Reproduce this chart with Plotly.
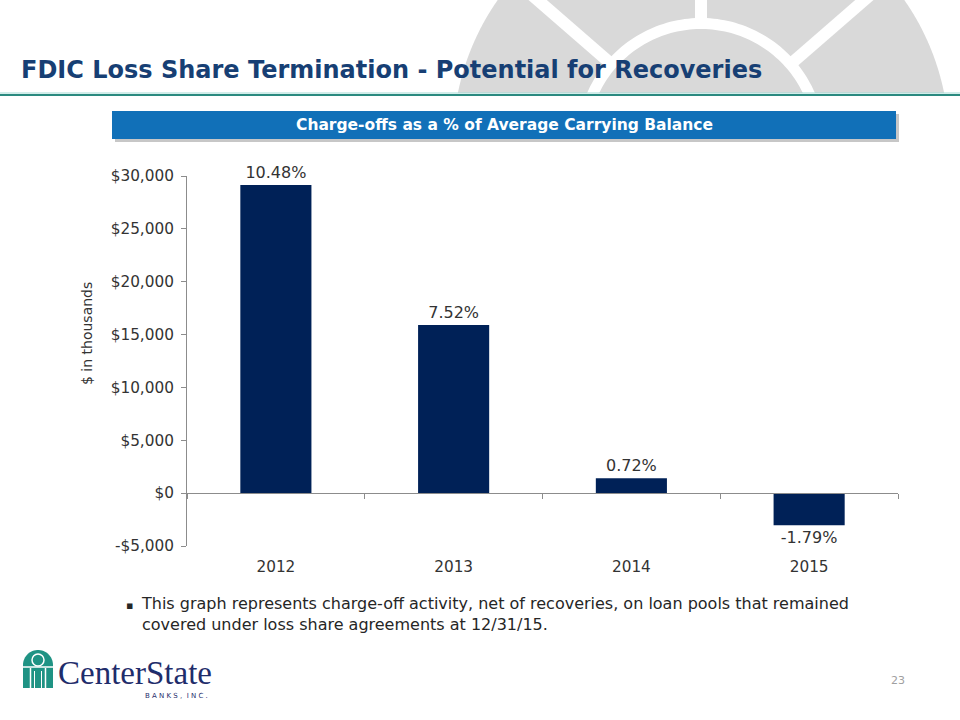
import numpy as np
import plotly.graph_objects as go

# ---------------- data ----------------
years = ["2012", "2013", "2014", "2015"]
charge_offs = [29150, 15900, 1420, -3030]          # $ in thousands
pct_labels = ["10.48%", "7.52%", "0.72%", "-1.79%"]
y_ticks = [-5000, 0, 5000, 10000, 15000, 20000, 25000, 30000]
y_tick_text = ["-$5,000", "$0", "$5,000", "$10,000", "$15,000", "$20,000", "$25,000", "$30,000"]

title_text = "FDIC Loss Share Termination - Potential for Recoveries"
banner_text = "Charge-offs as a % of Average Carrying Balance"
note_text = ("This graph represents charge-off activity, net of recoveries, on loan pools that remained<br>"
             "covered under loss share agreements at 12/31/15.")

W, H = 960, 720
def px(x): return x / W
def py(y): return 1 - y / H

NAVY = "#002157"
TEXT = "#333333"
AXIS = "#8c8c8c"

fig = go.Figure()
fig.add_trace(go.Bar(
    x=years, y=charge_offs, text=pct_labels, textposition="outside",
    marker=dict(color=NAVY, line=dict(width=0)), cliponaxis=False,
    textfont=dict(family="DejaVu Sans", size=16, color=TEXT),
    hoverinfo="skip", xaxis="x", yaxis="y", showlegend=False,
))
fig.add_trace(go.Scatter(
    x=years, y=charge_offs, mode="markers", marker=dict(opacity=0),
    hoverinfo="skip", xaxis="x2", yaxis="y", showlegend=False,
))

y0, y1 = 546, 176
ydom = [py(y0), py(y1)]
xdom = [px(187), px(898)]
zero_pos = ydom[0] + (0 - y_ticks[0]) / (y_ticks[-1] - y_ticks[0]) * (ydom[1] - ydom[0])

fig.update_layout(
    template="none",
    width=W, height=H, margin=dict(l=0, r=0, t=0, b=0, pad=0), autosize=False,
    paper_bgcolor="white", plot_bgcolor="rgba(0,0,0,0)",
    bargap=0.6, showlegend=False,
    xaxis=dict(domain=xdom, type="category", categoryorder="array", categoryarray=years,
               showline=False, ticks="", showgrid=False, zeroline=False, automargin=False,
               tickfont=dict(family="DejaVu Sans", size=15.3, color=TEXT), anchor="y",
               ticklabelstandoff=10),
    xaxis2=dict(domain=xdom, type="category", categoryorder="array", categoryarray=years,
                matches="x", overlaying="x", anchor="free", position=zero_pos, automargin=False,
                showline=True, linecolor=AXIS, linewidth=1, ticks="outside", ticklen=5,
                tickcolor=AXIS, tickwidth=1, tickson="boundaries", showticklabels=False,
                showgrid=False, zeroline=False),
    yaxis=dict(domain=ydom, range=[y_ticks[0], y_ticks[-1]], tickvals=y_ticks, ticktext=y_tick_text,
               showline=True, linecolor=AXIS, linewidth=1, ticks="outside", ticklen=5,
               tickcolor=AXIS, tickwidth=1, showgrid=False, zeroline=False, automargin=False,
               ticklabelstandoff=4,
               tickfont=dict(family="DejaVu Sans", size=15.3, color=TEXT)),
)

shapes = []
def poly(pts):
    return "M " + " L ".join(f"{px(x):.5f},{py(y):.5f}" for x, y in pts) + " Z"

# ---------- background decoration (gray wheel, top right) ----------
cx, cy, R = 701.0, 142.0, 248.0
ybot = 93.0
ys = np.linspace(ybot, 0, 40)
left = [(cx - np.sqrt(R**2 - (cy - y)**2), y) for y in ys]
right = [(cx + np.sqrt(R**2 - (cy - y)**2), y) for y in ys[::-1]]
shapes.append(dict(type="path", xref="paper", yref="paper", path=poly(left + right),
                   fillcolor="#d9d9d9", line=dict(width=0), layer="below"))
r_out, r_in = 124.0, 113.0
a_out = np.arcsin((cy - ybot) / r_out)
a_in = np.arcsin((cy - ybot) / r_in)
th_o = np.linspace(np.pi - a_out, a_out, 80)
th_i = np.linspace(a_in, np.pi - a_in, 80)
ring = [(cx + r_out * np.cos(t), cy - r_out * np.sin(t)) for t in th_o] + \
       [(cx + r_in * np.cos(t), cy - r_in * np.sin(t)) for t in th_i]
shapes.append(dict(type="path", xref="paper", yref="paper", path=poly(ring),
                   fillcolor="white", line=dict(width=0), layer="below"))
for ang in [41, 90, 139]:
    t = np.radians(ang)
    d = np.array([np.cos(t), -np.sin(t)])
    n = np.array([np.sin(t), np.cos(t)]) * 6.0
    c = np.array([cx, cy])
    p1 = c + d * 120; p2 = c + d * 320
    pts = [tuple(p1 + n), tuple(p2 + n), tuple(p2 - n), tuple(p1 - n)]
    shapes.append(dict(type="path", xref="paper", yref="paper", path=poly(pts),
                       fillcolor="white", line=dict(width=0), layer="below"))

# teal rule under title
shapes.append(dict(type="line", xref="paper", yref="paper", x0=0, x1=1, y0=py(93), y1=py(93),
                   line=dict(color="#a6dcd6", width=1.2)))
shapes.append(dict(type="line", xref="paper", yref="paper", x0=0, x1=1, y0=py(95), y1=py(95),
                   line=dict(color="#2b8a80", width=2.2)))

# banner with shadow
shapes.append(dict(type="rect", xref="paper", yref="paper", x0=px(115), x1=px(899), y0=py(142), y1=py(114),
                   fillcolor="rgba(0,0,0,0.22)", line=dict(width=0)))
shapes.append(dict(type="rect", xref="paper", yref="paper", x0=px(112), x1=px(896), y0=py(139), y1=py(111),
                   fillcolor="#1170b8", line=dict(width=0)))

# logo icon (arched window)
ix0, ix1, itop, ibot = 23.0, 53.0, 650.0, 688.0
icx = (ix0 + ix1) / 2; ir = (ix1 - ix0) / 2
arch = [(ix0, ibot)] + [(icx - ir * np.cos(t), itop + ir - ir * np.sin(t)) for t in np.linspace(0, np.pi, 30)] + [(ix1, ibot)]
shapes.append(dict(type="path", xref="paper", yref="paper", path=poly(arch),
                   fillcolor="#1f9384", line=dict(width=0)))
shapes.append(dict(type="circle", xref="paper", yref="paper", x0=px(icx - 6), x1=px(icx + 6),
                   y0=py(itop + 16), y1=py(itop + 4), fillcolor="#1f9384", line=dict(color="white", width=1.5)))
for xx in [30.5, 45.5]:
    shapes.append(dict(type="line", xref="paper", yref="paper", x0=px(xx), x1=px(xx), y0=py(668), y1=py(688),
                       line=dict(color="white", width=1.5)))
shapes.append(dict(type="line", xref="paper", yref="paper", x0=px(ix0), x1=px(ix1), y0=py(667), y1=py(667),
                   line=dict(color="white", width=1.5)))
for xx in [34.5, 41.5]:
    shapes.append(dict(type="line", xref="paper", yref="paper", x0=px(xx), x1=px(xx), y0=py(671), y1=py(688),
                       line=dict(color="white", width=1)))

fig.update_layout(shapes=shapes)

ann = []
ann.append(dict(text=f"<b>{title_text}</b>", x=px(19), y=py(70), xref="paper", yref="paper",
                xanchor="left", yanchor="middle", showarrow=False,
                font=dict(family="DejaVu Sans", size=24, color="#173f74")))
ann.append(dict(text=f"<b>{banner_text}</b>", x=px(504), y=py(125), xref="paper", yref="paper",
                xanchor="center", yanchor="middle", showarrow=False,
                font=dict(family="DejaVu Sans", size=15.5, color="white")))
ann.append(dict(text="$ in thousands", x=px(87), y=py(334), xref="paper", yref="paper",
                xanchor="center", yanchor="middle", showarrow=False, textangle=-90,
                font=dict(family="DejaVu Sans", size=14, color=TEXT)))
ann.append(dict(text="▪", x=px(129), y=py(605), xref="paper", yref="paper",
                xanchor="center", yanchor="middle", showarrow=False,
                font=dict(family="DejaVu Sans", size=11, color="#262626")))
ann.append(dict(text=note_text, x=px(139), y=py(614), xref="paper", yref="paper",
                xanchor="left", yanchor="middle", showarrow=False, align="left",
                font=dict(family="DejaVu Sans", size=16, color="#262626")))
ann.append(dict(text="CenterState", x=px(56), y=py(673), xref="paper", yref="paper",
                xanchor="left", yanchor="middle", showarrow=False,
                font=dict(family="Liberation Serif", size=33, color="#1f2d6b")))
ann.append(dict(text="B A N K S ,  I N C .", x=px(210), y=py(696), xref="paper", yref="paper",
                xanchor="right", yanchor="middle", showarrow=False,
                font=dict(family="DejaVu Sans", size=7, color="#1f2d6b")))
ann.append(dict(text="23", x=px(898), y=py(680), xref="paper", yref="paper",
                xanchor="center", yanchor="middle", showarrow=False,
                font=dict(family="DejaVu Sans", size=11, color="#a0a0a0")))
fig.update_layout(annotations=ann)

fig.write_html("out.html", config={"displayModeBar": False},
               post_script="document.body.style.margin='0';document.body.style.overflow='hidden';")
